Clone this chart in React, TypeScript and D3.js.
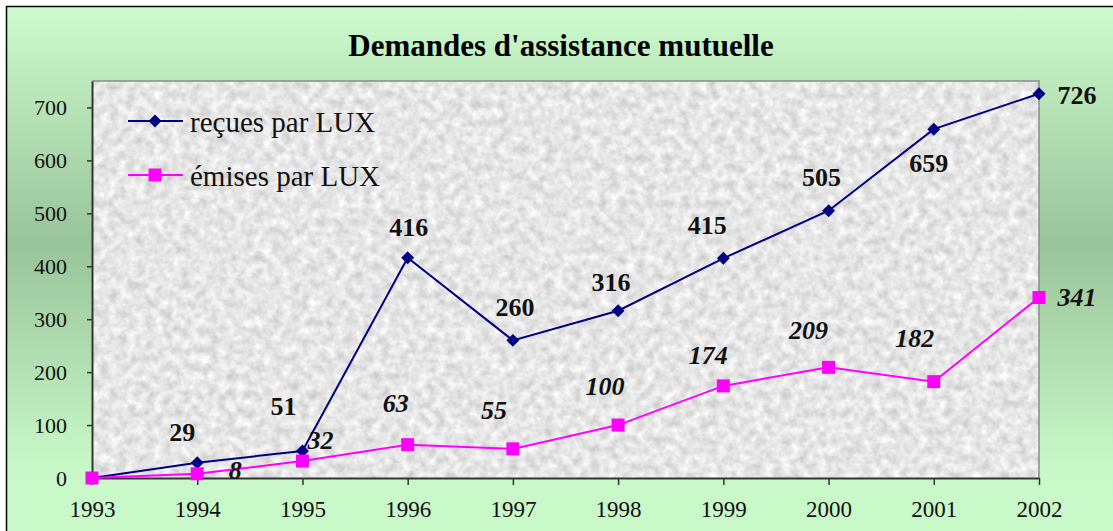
import React, { useEffect, useRef } from "react";
import * as d3 from "d3";

const years = ["1993", "1994", "1995", "1996", "1997", "1998", "1999", "2000", "2001", "2002"];
const recues = [0, 29, 51, 416, 260, 316, 415, 505, 659, 726];
const emises = [0, 8, 32, 63, 55, 100, 174, 209, 182, 341];
const yTicks = [0, 100, 200, 300, 400, 500, 600, 700];
const seriesNames = ["reçues par LUX", "émises par LUX"];
const title = "Demandes d'assistance mutuelle";

// hand placed label offsets (dx, dy from the point), no label on 1993
const recuesLabelPos = [null, [-15, -22], [-19, -36], [1, -22], [2, -24], [-7, -20], [-16, -24], [-7, -25], [-5, 43], [38, 10]];
const emisesLabelPos = [null, [38, 5], [18, -12], [-12, -33], [-19, -30], [-13, -30], [-15, -22], [-20, -28], [-19, -35], [38, 9]];

const FONT = "'Liberation Serif', 'Times New Roman', serif";

function App() {
  const ref = useRef<SVGSVGElement>(null);

  useEffect(() => {
    drawChart();
  }, []);

  const drawChart = () => {
    const svg = d3.select(ref.current);
    svg.selectAll("*").remove();

    const defs = svg.append("defs");
    const grad = defs
      .append("linearGradient")
      .attr("id", "bg")
      .attr("gradientUnits", "userSpaceOnUse")
      .attr("x1", 0)
      .attr("y1", 7)
      .attr("x2", 0)
      .attr("y2", 531);
    grad.append("stop").attr("offset", 0).attr("stop-color", "#cdfbcd");
    grad.append("stop").attr("offset", 0.45).attr("stop-color", "#99c399");
    grad.append("stop").attr("offset", 0.88).attr("stop-color", "#c8f8c8");
    grad.append("stop").attr("offset", 1).attr("stop-color", "#c9f9c9");

    const filt = defs
      .append("filter")
      .attr("id", "granite")
      .attr("x", 0)
      .attr("y", 0)
      .attr("width", 1)
      .attr("height", 1)
      .attr("color-interpolation-filters", "sRGB");
    filt
      .append("feTurbulence")
      .attr("type", "fractalNoise")
      .attr("baseFrequency", 0.11)
      .attr("numOctaves", 3)
      .attr("seed", 7)
      .attr("result", "n");
    filt
      .append("feColorMatrix")
      .attr("in", "n")
      .attr("type", "matrix")
      .attr("values", "0.28 0 0 0 0.76  0.28 0 0 0 0.76  0.28 0 0 0 0.76  0 0 0 0 1");

    // outer frame
    svg
      .append("rect")
      .attr("x", 6.5)
      .attr("y", 6.5)
      .attr("width", 1130)
      .attr("height", 540)
      .attr("fill", "url(#bg)")
      .attr("stroke", "#000")
      .attr("stroke-width", 1.5);

    const margin = { top: 81, left: 92, right: 1039, bottom: 478 };

    const x = d3.scalePoint().domain(years).range([margin.left, margin.right]);
    const y = d3.scaleLinear().domain([0, 750]).range([margin.bottom, margin.top]);

    // plot area
    svg
      .append("rect")
      .attr("x", margin.left)
      .attr("y", margin.top)
      .attr("width", margin.right - margin.left)
      .attr("height", margin.bottom - margin.top)
      .attr("fill", "#e6e6e6")
      .attr("filter", "url(#granite)");
    svg
      .append("path")
      .attr("d", `M${margin.left},${margin.top}H${margin.right}V${margin.bottom}`)
      .attr("fill", "none")
      .attr("stroke", "#8a8a8a")
      .attr("stroke-width", 1.5);

    // title
    svg
      .append("text")
      .attr("x", 561)
      .attr("y", 56)
      .attr("text-anchor", "middle")
      .attr("font-family", FONT)
      .attr("font-weight", "bold")
      .attr("font-size", 31)
      .text(title);

    // axes
    const yAxis = svg
      .append("g")
      .attr("transform", `translate(${margin.left},0)`)
      .call(d3.axisLeft(y).tickValues(yTicks).tickSize(5).tickSizeOuter(0).tickPadding(20));
    const xAxis = svg
      .append("g")
      .attr("transform", `translate(0,${margin.bottom})`)
      .call(d3.axisBottom(x).tickSize(7).tickSizeOuter(0).tickPadding(16));
    [yAxis, xAxis].forEach((a) => {
      a.attr("font-family", FONT);
      a.select(".domain").attr("stroke", "#333").attr("stroke-width", 2);
      a.selectAll(".tick line").attr("stroke", "#333").attr("stroke-width", 1.5);
      a.selectAll(".tick text")
        .attr("fill", "#111")
        .attr("font-family", FONT)
        .attr("font-size", 22);
    });
    xAxis.selectAll(".tick text").attr("font-size", 23);

    const series = [
      { values: recues, color: "#000080", shape: "diamond", labels: recuesLabelPos, italic: false },
      { values: emises, color: "#ff00ff", shape: "square", labels: emisesLabelPos, italic: true },
    ];

    const diamond = d3.symbol().type(d3.symbolSquare).size(84)();
    const square = d3.symbol().type(d3.symbolSquare).size(169)();

    const line = d3
      .line<number>()
      .x((d, i) => x(years[i]) as number)
      .y((d) => y(d));

    series.forEach((s) => {
      svg
        .append("path")
        .attr("d", line(s.values))
        .attr("fill", "none")
        .attr("stroke", s.color)
        .attr("stroke-width", 2);

      svg
        .append("g")
        .selectAll("path")
        .data(s.values)
        .enter()
        .append("path")
        .attr("d", s.shape === "diamond" ? diamond : square)
        .attr("transform", (d, i) =>
          `translate(${x(years[i])},${y(d)})` + (s.shape === "diamond" ? " rotate(45)" : "")
        )
        .attr("fill", s.color);
    });

    series.forEach((s) => {
      const pts = s.values
        .map((v, i) => ({ v, year: years[i], off: s.labels[i] as number[] | null }))
        .filter((p) => p.off !== null);
      svg
        .append("g")
        .selectAll("text")
        .data(pts)
        .enter()
        .append("text")
        .attr("x", (p) => (x(p.year) as number) + p.off![0])
        .attr("y", (p) => y(p.v) + p.off![1])
        .attr("text-anchor", "middle")
        .attr("font-family", FONT)
        .attr("font-weight", "bold")
        .attr("font-style", s.italic ? "italic" : "normal")
        .attr("font-size", 26)
        .attr("fill", "#111")
        .text((p) => p.v);
    });

    // legend
    const legend = svg.append("g");
    series.forEach((s, i) => {
      const ly = 121 + i * 54;
      legend
        .append("line")
        .attr("x1", 128)
        .attr("x2", 183)
        .attr("y1", ly)
        .attr("y2", ly)
        .attr("stroke", s.color)
        .attr("stroke-width", 2);
      legend
        .append("path")
        .attr("d", s.shape === "diamond" ? diamond : square)
        .attr("transform", `translate(155,${ly})` + (s.shape === "diamond" ? " rotate(45)" : ""))
        .attr("fill", s.color);
      legend
        .append("text")
        .attr("x", 190)
        .attr("y", ly + 10.5)
        .attr("font-family", FONT)
        .attr("font-size", 29)
        .attr("fill", "#111")
        .text(seriesNames[i]);
    });
  };

  return <svg ref={ref} width={1113} height={531} style={{ position: "absolute", left: 0, top: 0 }} />;
}

export default App;
